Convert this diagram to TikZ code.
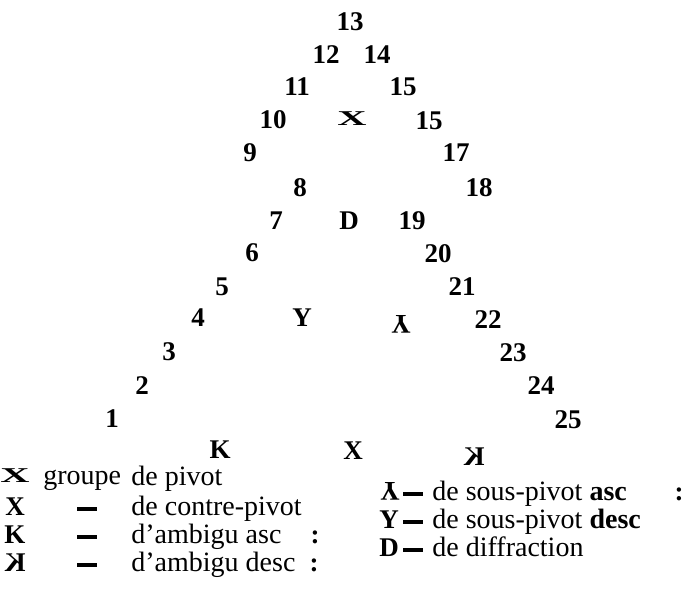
\documentclass[tikz,border=0pt]{standalone}
\usepackage{fontspec}
\setmainfont{Liberation Serif}
\usepackage{graphicx}
\usetikzlibrary{positioning}

% signs of the scheme
\newcommand{\pivotsign}{\scalebox{1.5}[0.78]{\textbf{X}}}
\newcommand{\sousasc}{\rotatebox[origin=c]{180}{\textbf{Y}}}
\newcommand{\ambdesc}{\reflectbox{\textbf{K}}}

\begin{document}
\begin{tikzpicture}[
    x=0.5pt, y=-0.5pt,
    num/.style={anchor=base, inner sep=0pt, font=\fontsize{13.5}{15}\selectfont\bfseries},
    sign/.style={anchor=base, inner sep=0pt, font=\fontsize{13.5}{15}\selectfont\bfseries},
    legtext/.style={anchor=base west, inner sep=0pt, font=\fontsize{14}{16}\selectfont},
    legdash/.style={fill=black, inner sep=0pt, minimum width=10pt, minimum height=1.6pt},
  ]
    \useasboundingbox (0,0) rectangle (688,597);

    % left side, ascending
    \node[num] (n1) at (112,427) {1};
    \node[num] (n2) at (142,394) {2};
    \node[num] (n3) at (169,361) {3};
    \node[num] (n4) at (198,327) {4};
    \node[num] (n5) at (222,296) {5};
    \node[num] (n6) at (252,262) {6};
    \node[num] (n7) at (276,230) {7};
    \node[num] (n8) at (300,197) {8};
    \node[num] (n9) at (250,162) {9};
    \node[num] (n10) at (273,129) {10};
    \node[num] (n11) at (297,96) {11};
    \node[num] (n12) at (326,64) {12};
    \node[num] (n13) at (350,31) {13};

    % right side, descending
    \node[num] (n14) at (377,64) {14};
    \node[num] (n15a) at (403,96) {15};
    \node[num] (n15b) at (429,130) {15};
    \node[num] (n17) at (456,162) {17};
    \node[num] (n18) at (479,197) {18};
    \node[num] (n19) at (412,230) {19};
    \node[num] (n20) at (438,263) {20};
    \node[num] (n21) at (462,296) {21};
    \node[num] (n22) at (488,329) {22};
    \node[num] (n23) at (513,362) {23};
    \node[num] (n24) at (541,394) {24};
    \node[num] (n25) at (568,428) {25};

    % signs inside
    \node[sign] (piv) at (352,126) {\pivotsign};
    \node[sign] (diff) at (349,230) {D};
    \node[sign] (ydesc) at (302,327) {Y};
    \node[sign] (lasc) at (401,333) {\sousasc};
    \node[sign] (kasc) at (220,458) {K};
    \node[sign] (contra) at (353,459) {X};
    \node[sign] (kdesc) at (474,465) {\ambdesc};

    % legend, left
    \node[sign] (lg1) at (15,482) {\pivotsign};
    \node[legtext] (lt1a) at (43,484) {groupe};
    \node[legtext] (lt1b) at (131,485) {de pivot};
    \node[sign] (lg2) at (15,515) {X};
    \node[legdash] (ld2) at (87,509) {};
    \node[legtext] (lt2) at (131,515) {de contre-pivot};
    \node[sign] (lg3) at (15,543) {K};
    \node[legdash] (ld3) at (87,537) {};
    \node[legtext] (lt3) at (131,543) {d'ambigu asc};
    \node[sign] (lc3) at (315,543) {:};
    \node[sign] (lg4) at (15,571) {\ambdesc};
    \node[legdash] (ld4) at (87,565) {};
    \node[legtext] (lt4) at (131,571) {d'ambigu desc};
    \node[sign] (lc4) at (314,571) {:};

    % legend, right
    \node[sign] (rg1) at (390,500) {\sousasc};
    \node[legdash] (rd1) at (413,494) {};
    \node[legtext] (rt1) at (432,500) {de sous-pivot \textbf{asc}};
    \node[sign] (stray) at (679,500) {:};
    \node[sign] (rg2) at (389,528) {Y};
    \node[legdash] (rd2) at (413,522) {};
    \node[legtext] (rt2) at (432,528) {de sous-pivot \textbf{desc}};
    \node[sign] (rg3) at (389,556) {D};
    \node[legdash] (rd3) at (413,550) {};
    \node[legtext] (rt3) at (432,556) {de diffraction};
\end{tikzpicture}
\end{document}
